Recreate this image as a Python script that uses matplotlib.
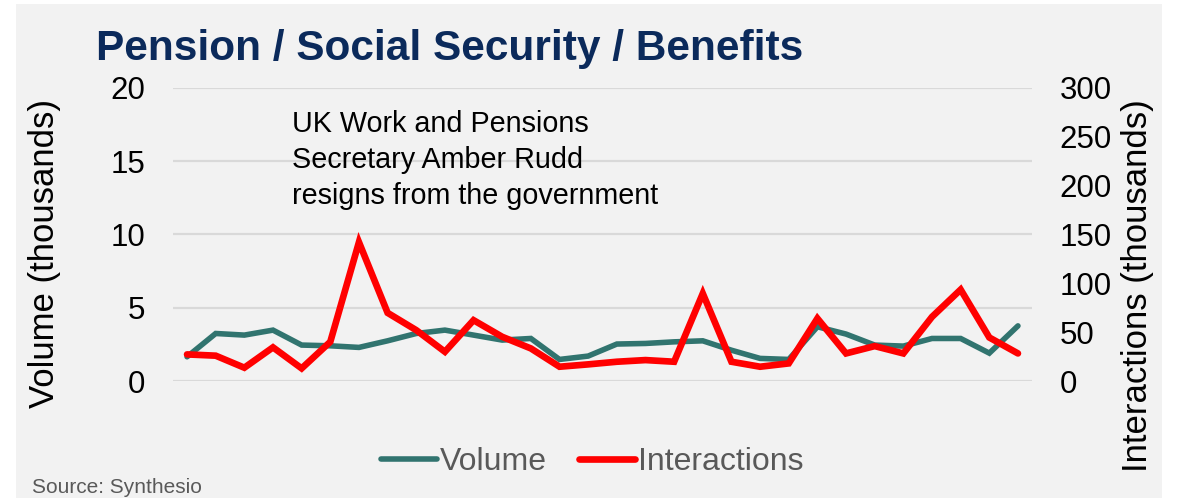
import matplotlib
matplotlib.use("Agg")
import matplotlib.pyplot as plt
from matplotlib.patches import Rectangle

plt.rcParams['font.family'] = ['Liberation Sans', 'DejaVu Sans']

# daily mention volume and interactions, both in thousands
volume = [1.65, 3.24, 3.13, 3.47, 2.45, 2.40, 2.29, 2.74, 3.24, 3.47,
          3.13, 2.79, 2.90, 1.47, 1.70, 2.52, 2.56, 2.67, 2.74, 2.10,
          1.54, 1.47, 3.70, 3.20, 2.45, 2.38, 2.90, 2.90, 1.90, 3.76]
interactions = [27.2, 25.9, 13.6, 34.4, 12.9, 40.1, 142.0, 69.7, 52.0, 29.9,
                62.2, 45.2, 33.3, 14.6, 17.0, 19.7, 21.4, 19.7, 89.5, 19.7,
                14.6, 18.0, 64.0, 28.2, 35.7, 28.2, 65.6, 93.5, 44.5, 28.2]
days = list(range(len(volume)))

vol_ticks = [0, 5, 10, 15, 20]
int_ticks = [0, 50, 100, 150, 200, 250, 300]

teal = '#31746f'
red = '#ff0000'
grey_text = '#595959'

W, H = 1179, 498
fig = plt.figure(figsize=(W / 100, H / 100), dpi=100, facecolor='white')

# grey card behind everything
fig.patches.append(Rectangle((16 / W, 0), (1162 - 16) / W, 1 - 4 / H,
                             transform=fig.transFigure, facecolor='#f2f2f2',
                             edgecolor='none', zorder=-10))

ax = fig.add_axes([173 / W, 117 / H, (1032 - 173) / W, (381 - 87.7) / H])
ax.set_facecolor('none')
ax2 = ax.twinx()

ln1, = ax.plot(days, volume, color=teal, lw=4, solid_capstyle='round',
               solid_joinstyle='miter', label='Volume')
ln2, = ax2.plot(days, interactions, color=red, lw=4.8, solid_capstyle='round',
                solid_joinstyle='miter', label='Interactions')

ax.set_xlim(-0.49, len(days) - 0.51)
ax.set_ylim(0, 20)
ax2.set_ylim(0, 300)
ax.set_yticks(vol_ticks)
ax2.set_yticks(int_ticks)
ax.set_xticks([])
ax.yaxis.grid(True, color='#d9d9d9', lw=1.6)
ax.set_axisbelow(True)

for a in (ax, ax2):
    for s in a.spines.values():
        s.set_visible(False)
    a.tick_params(axis='y', length=0, labelsize=22.5, labelcolor='black', pad=20)

fig.text(96 / W, 1 - 60 / H, 'Pension / Social Security / Benefits',
         fontsize=30.5, fontweight='bold', color='#0b2a5b', va='baseline')

fig.text(45 / W, 1 - 253.5 / H, 'Volume (thousands)', rotation=90,
         fontsize=25, ha='center', va='center')
fig.text(1137 / W, 1 - 285.5 / H, 'Interactions (thousands)', rotation=90,
         fontsize=25, ha='center', va='center')

fig.text(292 / W, 1 - 110 / H,
         'UK Work and Pensions\nSecretary Amber Rudd\nresigns from the government',
         fontsize=20.7, va='top', ha='left', linespacing=1.37)

leg = fig.legend([ln1, ln2], ['Volume', 'Interactions'], loc='center',
                 bbox_to_anchor=(592 / W, 1 - 462 / H), ncol=2, frameon=False,
                 fontsize=23, handlelength=1.75, handletextpad=0.1,
                 columnspacing=1.0)
for t in leg.get_texts():
    t.set_color(grey_text)

fig.text(32 / W, 1 - 493 / H, 'Source: Synthesio', fontsize=15,
         color=grey_text, va='baseline')

fig.savefig('out.png', dpi=100, facecolor=fig.get_facecolor())
